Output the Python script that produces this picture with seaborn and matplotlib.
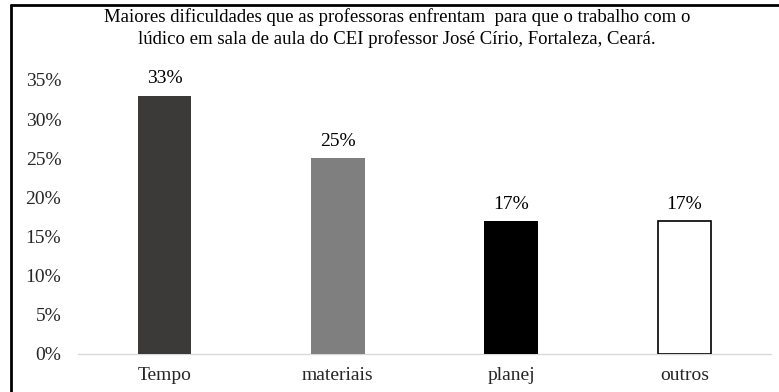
import matplotlib
matplotlib.use("Agg")
import matplotlib.pyplot as plt
import seaborn as sns
import pandas as pd
from matplotlib.lines import Line2D

categories = ["Tempo", "materiais", "planej", "outros"]
values = [0.33, 0.25, 0.17, 0.17]
labels = ["33%", "25%", "17%", "17%"]
colors = ["#3b3a39", "#7f7f7f", "#000000", "#ffffff"]
yticks = [0, 0.05, 0.10, 0.15, 0.20, 0.25, 0.30, 0.35]
ytick_labels = ["0%", "5%", "10%", "15%", "20%", "25%", "30%", "35%"]
title = ("Maiores dificuldades que as professoras enfrentam  para que o trabalho com o\n"
         "lúdico em sala de aula do CEI professor José Círio, Fortaleza, Ceará.")

sns.set_theme(style="white")
plt.rcParams["font.family"] = ["Liberation Serif", "DejaVu Serif"]

df = pd.DataFrame({"cat": categories, "val": values})

fig = plt.figure(figsize=(7.79, 3.92), dpi=100)
ax = fig.add_axes([78/779, 1 - 354/392, (771 - 78)/779, (354 - 80)/392])

sns.barplot(data=df, x="cat", y="val", hue="cat", palette=colors, legend=False,
            width=0.31, ax=ax, saturation=1)
for i, p in enumerate(ax.patches):
    if colors[i] == "#ffffff":
        p.set_edgecolor("black")
        p.set_linewidth(1.2)
    else:
        p.set_edgecolor("none")

for i, p in enumerate(ax.patches):
    ax.annotate(labels[i], (p.get_x() + p.get_width() / 2, p.get_height()),
                xytext=(0, 6), textcoords="offset points", ha="center", va="bottom",
                fontsize=14, color="#000000")

ax.set_ylim(0, 0.35)
ax.set_xlim(-0.5, 3.5)
ax.set_yticks(yticks)
ax.set_yticklabels(ytick_labels, fontsize=14)
ax.tick_params(axis="x", labelsize=14, length=0, pad=9)
ax.tick_params(axis="y", length=0, pad=12)
ax.set_xlabel("")
ax.set_ylabel("")
for s in ["top", "right", "left"]:
    ax.spines[s].set_visible(False)
ax.spines["bottom"].set_color("#d9d9d9")
ax.spines["bottom"].set_linewidth(1)
ax.spines["bottom"].set_zorder(0)

fig.text(397/779, 1 - 28/392, title, ha="center", va="center", fontsize=13.5,
         linespacing=1.25, color="black")

fig.add_artist(Line2D([11/779, 11/779], [0, 1 - 5/392], transform=fig.transFigure,
                      color="black", linewidth=2))
fig.add_artist(Line2D([11/779, 1], [1 - 5/392, 1 - 5/392], transform=fig.transFigure,
                      color="black", linewidth=2))

fig.savefig("out.png", dpi=100, facecolor="white")
